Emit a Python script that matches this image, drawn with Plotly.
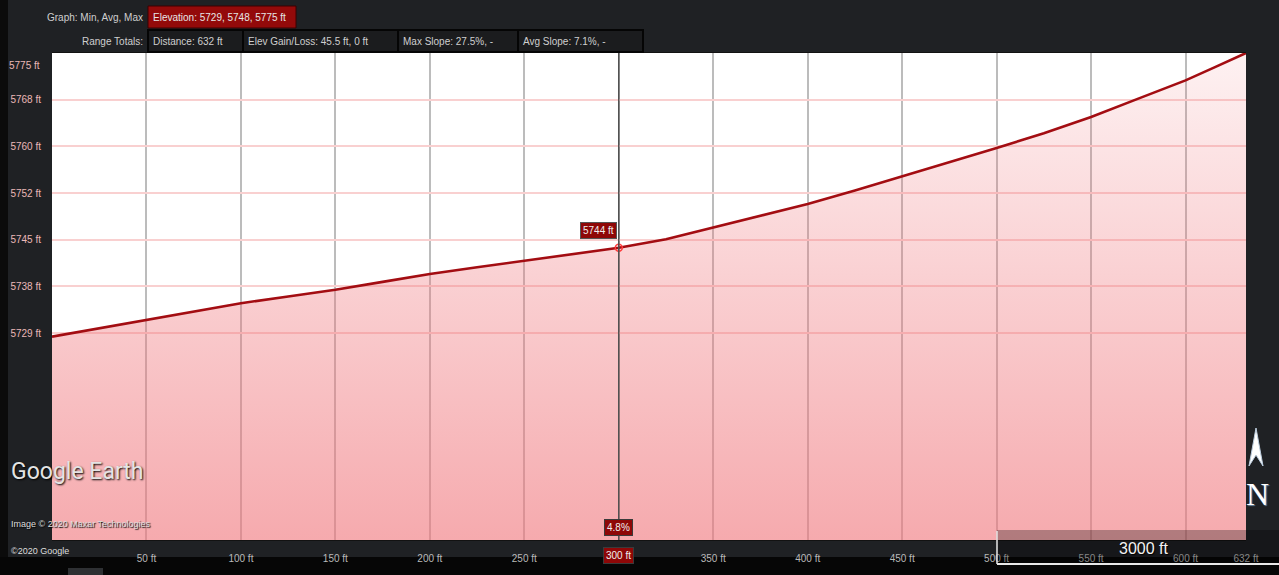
import plotly.graph_objects as go

# ---------------- data ----------------
distance_ft = [0, 25, 50, 75, 100, 125, 150, 175, 200, 225, 250, 275, 300, 325,
               350, 375, 400, 425, 450, 475, 500, 525, 550, 575, 600, 615, 632]
elevation_ft = [5728.4, 5729.8, 5731.2, 5732.6, 5733.9, 5735.0, 5736.1, 5737.4,
                5738.7, 5739.8, 5740.9, 5742.0, 5743.0, 5744.4, 5746.3, 5748.2,
                5750.2, 5752.4, 5754.7, 5757.0, 5759.4, 5761.8, 5764.5, 5767.5,
                5770.5, 5772.6, 5775.0]

x_tick_vals = [50, 100, 150, 200, 250, 300, 350, 400, 450, 500, 550, 600, 632]
x_tick_text = ["50 ft", "100 ft", "150 ft", "200 ft", "250 ft", "", "350 ft",
               "400 ft", "450 ft", "500 ft", "550 ft", "600 ft", "632 ft"]
y_tick_vals = [5729, 5736.67, 5744.33, 5752, 5759.67, 5767.33]
y_tick_text = ["5729 ft", "5738 ft", "5745 ft", "5752 ft", "5760 ft", "5768 ft"]
y_top_label = "5775 ft"

cursor_dist = 300
cursor_label = "5744 ft"
cursor_slope = "4.8%"
cursor_axis_label = "300 ft"

header_row1_label = "Graph: Min, Avg, Max"
header_row1_value = "Elevation: 5729, 5748, 5775 ft"
header_row2_label = "Range Totals:"
header_row2_values = ["Distance: 632 ft", "Elev Gain/Loss: 45.5 ft, 0 ft",
                      "Max Slope: 27.5%, -", "Avg Slope: 7.1%, -"]
scale_text = "3000 ft"

# ---------------- geometry helpers (pixel -> paper) ----------------
W, H = 1279, 575
L, R, T, B = 52, 1246, 53, 540


def px(x):
    return (x - L) / (R - L)


def py(y):
    return (B - y) / (B - T)


NARROW = "Liberation Sans Narrow, Arial Narrow, Liberation Sans, sans-serif"
TXT = "#cfcfcf"
FS = 10

fig = go.Figure()

fig.add_trace(go.Scatter(
    x=distance_ft, y=elevation_ft, mode="lines",
    line=dict(color="#a30d12", width=2.6),
    fill="tozeroy",
    fillgradient=dict(type="vertical", start=5695, stop=5775,
                      colorscale=[[0, "rgba(240,118,124,0.62)"],
                                  [1, "rgba(240,118,124,0.10)"]]),
    hoverinfo="skip", showlegend=False))

ci = distance_ft.index(cursor_dist)
fig.add_trace(go.Scatter(
    x=[distance_ft[ci]], y=[elevation_ft[ci]], mode="markers",
    marker=dict(symbol="circle-open", size=7, color="#ff3b3b", line=dict(width=1.5)),
    hoverinfo="skip", showlegend=False))

shapes = []
annotations = []

# black outer bands
shapes.append(dict(type="rect", xref="paper", yref="paper", x0=px(0), x1=px(8),
                   y0=py(575), y1=py(0), fillcolor="#0b0b0b", line_width=0, layer="below"))
shapes.append(dict(type="rect", xref="paper", yref="paper", x0=px(0), x1=px(W),
                   y0=py(575), y1=py(557), fillcolor="#060606", line_width=0, layer="below"))
shapes.append(dict(type="rect", xref="paper", yref="paper", x0=px(68), x1=px(103),
                   y0=py(575), y1=py(568), fillcolor="#2e3033", line_width=0, layer="below"))

# header row 1
annotations.append(dict(xref="paper", yref="paper", x=px(145), y=py(17), text=header_row1_label,
                        showarrow=False, xanchor="right", yanchor="middle",
                        font=dict(family=NARROW, size=FS, color=TXT)))
shapes.append(dict(type="rect", xref="paper", yref="paper", x0=px(148), x1=px(296),
                   y0=py(28), y1=py(6), fillcolor="#930a0a", line=dict(color="#3a0000", width=1)))
annotations.append(dict(xref="paper", yref="paper", x=px(151), y=py(17), text=header_row1_value,
                        showarrow=False, xanchor="left", yanchor="middle",
                        font=dict(family=NARROW, size=FS, color="#e6e6e6")))

# header row 2
annotations.append(dict(xref="paper", yref="paper", x=px(145), y=py(41), text=header_row2_label,
                        showarrow=False, xanchor="right", yanchor="middle",
                        font=dict(family=NARROW, size=FS, color=TXT)))
box_edges = [148, 243, 398, 518, 643]
for i, t in enumerate(header_row2_values):
    shapes.append(dict(type="rect", xref="paper", yref="paper", x0=px(box_edges[i]),
                       x1=px(box_edges[i + 1]), y0=py(52), y1=py(30),
                       fillcolor="#1b1c1e", line=dict(color="#050505", width=2)))
    annotations.append(dict(xref="paper", yref="paper", x=px(box_edges[i] + 3), y=py(41), text=t,
                            showarrow=False, xanchor="left", yanchor="middle",
                            font=dict(family=NARROW, size=FS, color=TXT)))

# top y label (clamped inside like the original)
annotations.append(dict(xref="paper", yref="paper", x=px(42), y=py(65), text=y_top_label,
                        showarrow=False, xanchor="right", yanchor="middle",
                        font=dict(family=NARROW, size=FS, color="#eab8b8")))

# cursor line
shapes.append(dict(type="line", xref="x", yref="paper", x0=cursor_dist, x1=cursor_dist,
                   y0=0, y1=1, line=dict(color="#505050", width=1.5), layer="above"))
annotations.append(dict(xref="x", yref="y", x=cursor_dist, y=elevation_ft[ci], text=cursor_label,
                        showarrow=False, xanchor="center", yanchor="middle", xshift=-20, yshift=17,
                        bgcolor="#8e0707", bordercolor="#555555", borderwidth=1, borderpad=2,
                        font=dict(family=NARROW, size=FS, color="#eeeeee")))
annotations.append(dict(xref="x", yref="paper", x=cursor_dist, y=py(527), text=cursor_slope,
                        showarrow=False, xanchor="center", yanchor="middle",
                        bgcolor="#8e0707", bordercolor="#3a3a3a", borderwidth=1, borderpad=2,
                        font=dict(family=NARROW, size=FS, color="#eeeeee")))
annotations.append(dict(xref="x", yref="paper", x=cursor_dist, y=py(555), text=cursor_axis_label,
                        showarrow=False, xanchor="center", yanchor="middle",
                        bgcolor="#8e0707", bordercolor="#3a3a3a", borderwidth=1, borderpad=2,
                        font=dict(family=NARROW, size=FS, color="#eeeeee")))

# Google Earth branding
annotations.append(dict(xref="paper", yref="paper", x=px(9), y=py(471), text="Google Earth",
                        showarrow=False, xanchor="left", yanchor="middle",
                        font=dict(family="Roboto, Open Sans, sans-serif", size=23, color="#e4e4e4",
                                  shadow="1px 1px 2px #000")))
annotations.append(dict(xref="paper", yref="paper", x=px(9), y=py(524),
                        text="Image © 2020 Maxar Technologies",
                        showarrow=False, xanchor="left", yanchor="middle",
                        font=dict(family=NARROW, size=9, color="#dddddd",
                                  shadow="1px 1px 1px #000")))
annotations.append(dict(xref="paper", yref="paper", x=px(9), y=py(551), text="©2020 Google",
                        showarrow=False, xanchor="left", yanchor="middle",
                        font=dict(family=NARROW, size=9, color="#dddddd")))

# north arrow
shapes.append(dict(type="path", xref="paper", yref="paper",
                   path=f"M {px(1256)},{py(428)} L {px(1263)},{py(466)} L {px(1256)},{py(455)} "
                        f"L {px(1249)},{py(466)} Z",
                   fillcolor="#ffffff", line=dict(color="#bcd", width=1), layer="above"))
annotations.append(dict(xref="paper", yref="paper", x=px(1257), y=py(494), text="N",
                        showarrow=False, xanchor="center", yanchor="middle",
                        font=dict(family="Liberation Serif, DejaVu Serif, serif", size=32,
                                  color="#ffffff", shadow="1px 1px 1px #6a8aa8")))

# scale bar
shapes.append(dict(type="rect", xref="paper", yref="paper", x0=px(997), x1=px(W),
                   y0=py(563), y1=py(530), fillcolor="rgba(0,0,0,0.28)", line_width=0, layer="above"))
shapes.append(dict(type="line", xref="paper", yref="paper", x0=px(997), x1=px(W),
                   y0=py(564), y1=py(564), line=dict(color="#e8e8e8", width=2), layer="above"))
shapes.append(dict(type="line", xref="paper", yref="paper", x0=px(997), x1=px(997),
                   y0=py(564), y1=py(531), line=dict(color="#e8e8e8", width=1.5), layer="above"))
annotations.append(dict(xref="paper", yref="paper", x=px(1143), y=py(548), text=scale_text,
                        showarrow=False, xanchor="center", yanchor="middle",
                        font=dict(family=NARROW, size=16, color="#f2f2f2",
                                  shadow="1px 1px 1px #000")))

fig.update_layout(
    width=W, height=H,
    margin=dict(l=L, r=W - R, t=T, b=H - B, pad=0, autoexpand=False),
    paper_bgcolor="#1f2124", plot_bgcolor="#ffffff",
    shapes=shapes, annotations=annotations, showlegend=False,
    xaxis=dict(range=[0, 632], tickvals=x_tick_vals, ticktext=x_tick_text, automargin=False,
               showgrid=True, gridcolor="#bcbcbc", gridwidth=1.5, zeroline=False,
               ticks="", ticklabelstandoff=9, showline=True, linecolor="#121212", linewidth=1,
               tickfont=dict(family=NARROW, size=FS, color="#b9b9b9"), mirror=True),
    yaxis=dict(range=[5695, 5775], tickvals=y_tick_vals, ticktext=y_tick_text, automargin=False,
               showgrid=True, gridcolor="#f9d0d0", gridwidth=1.6, zeroline=False,
               ticks="", ticklabelstandoff=10, showline=False,
               tickfont=dict(family=NARROW, size=FS, color="#eab8b8")),
)

fig.write_html("out.html", config={"displayModeBar": False},
               post_script="document.body.style.margin='0';document.body.style.background='#1f2124';")
